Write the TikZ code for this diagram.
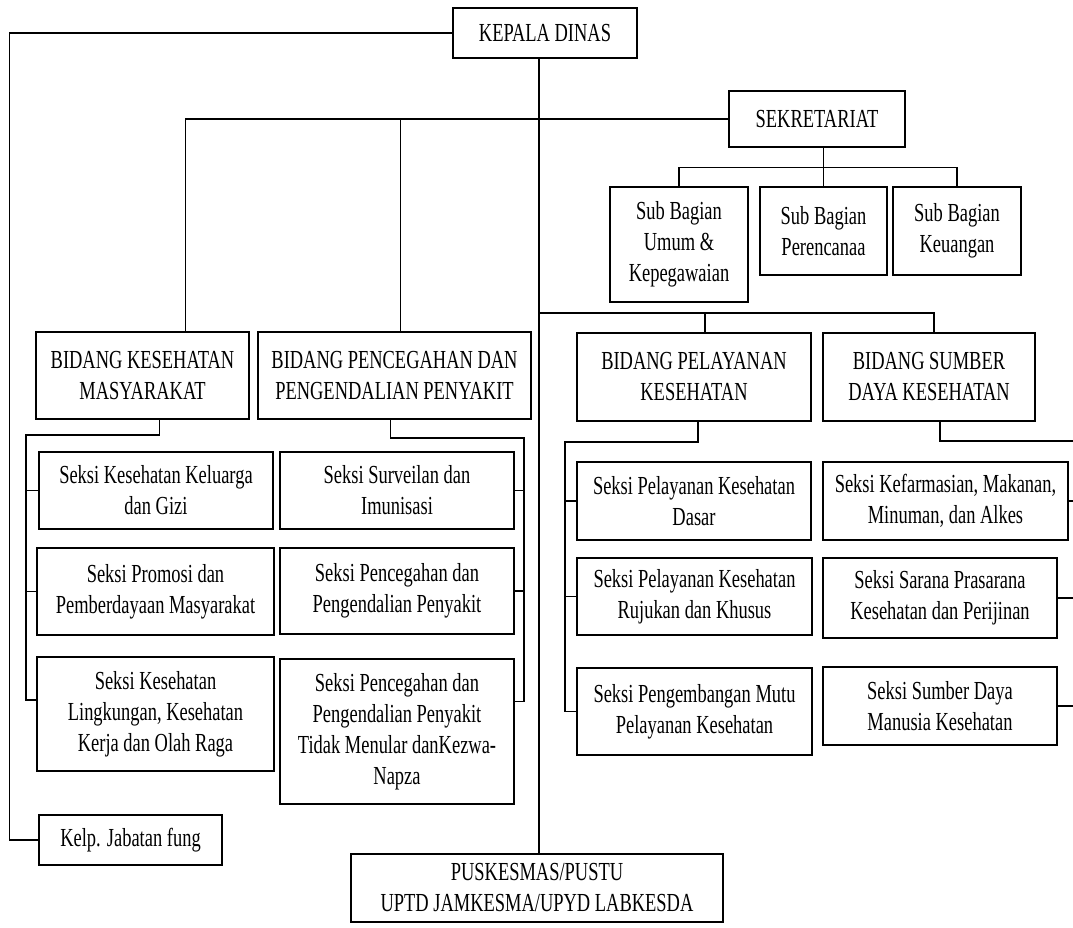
\documentclass[tikz,border=0pt]{standalone}
\usepackage{fontspec}
\setmainfont{Liberation Serif}[FakeStretch=0.71]
\tikzset{
    kotak/.style={draw, line width=2.9pt, align=center, inner sep=0pt, font=\fontsize{26}{31}\selectfont},
    garis/.style={line width=1.4pt}
}
\begin{document}
\begin{tikzpicture}[x=1pt,y=-1pt]
        \useasboundingbox (0,0) rectangle (1073,928);
        % pimpinan dan sekretariat
        \node[kotak, minimum width=184, minimum height=50] (kepala) at (545,33) {KEPALA DINAS};
        \node[kotak, minimum width=176, minimum height=56] (sekret) at (817,119) {SEKRETARIAT};
        \node[kotak, minimum width=138, minimum height=115] (sub1) at (679,244.5) {Sub Bagian\\Umum \&\\Kepegawaian};
        \node[kotak, minimum width=127, minimum height=88] (sub2) at (823.5,231) {Sub Bagian\\Perencanaa};
        \node[kotak, minimum width=128, minimum height=88] (sub3) at (957,231) {Sub Bagian\\Keuangan};
        % bidang
        \node[kotak, minimum width=213, minimum height=87] (bkm) at (142.5,375.5) {BIDANG KESEHATAN\\MASYARAKAT};
        \node[kotak, minimum width=273, minimum height=87] (bp2p) at (394.5,375.5) {BIDANG PENCEGAHAN DAN\\PENGENDALIAN PENYAKIT};
        \node[kotak, minimum width=234, minimum height=88] (bpk) at (694,377) {BIDANG PELAYANAN\\KESEHATAN};
        \node[kotak, minimum width=212, minimum height=88] (bsdk) at (929,377) {BIDANG SUMBER\\DAYA KESEHATAN};
        % seksi
        \node[kotak, minimum width=234, minimum height=77] (k1) at (156,490.5) {Seksi Kesehatan Keluarga\\dan Gizi};
        \node[kotak, minimum width=237, minimum height=87] (k2) at (155.5,591.5) {Seksi Promosi dan\\Pemberdayaan Masyarakat};
        \node[kotak, minimum width=237, minimum height=114] (k3) at (155.5,714) {Seksi Kesehatan\\Lingkungan, Kesehatan\\Kerja dan Olah Raga};
        \node[kotak, minimum width=234, minimum height=77] (p1) at (397,490.5) {Seksi Surveilan dan\\Imunisasi};
        \node[kotak, minimum width=234, minimum height=86] (p2) at (397,591) {Seksi Pencegahan dan\\Pengendalian Penyakit};
        \node[kotak, minimum width=234, minimum height=145] (p3) at (397,731.5) {Seksi Pencegahan dan\\Pengendalian Penyakit\\Tidak Menular danKezwa-\\Napza};
        \node[kotak, minimum width=234, minimum height=78] (l1) at (694,501) {Seksi Pelayanan Kesehatan\\Dasar};
        \node[kotak, minimum width=235, minimum height=77] (l2) at (694.5,596.5) {Seksi Pelayanan Kesehatan\\Rujukan dan Khusus};
        \node[kotak, minimum width=235, minimum height=87] (l3) at (694.5,711.5) {Seksi Pengembangan Mutu\\Pelayanan Kesehatan};
        \node[kotak, minimum width=245, minimum height=78] (s1) at (945.5,501) {Seksi Kefarmasian, Makanan,\\Minuman, dan Alkes};
        \node[kotak, minimum width=234, minimum height=80] (s2) at (940,598) {Seksi Sarana Prasarana\\Kesehatan dan Perijinan};
        \node[kotak, minimum width=234, minimum height=78] (s3) at (940,706) {Seksi Sumber Daya\\Manusia Kesehatan};
        % bawah
        \node[kotak, minimum width=183, minimum height=50] (jab) at (130.5,840) {Kelp. Jabatan fung};
        \node[kotak, minimum width=372, minimum height=68] (pusk) at (537,888) {PUSKESMAS/PUSTU\\UPTD JAMKESMA/UPYD LABKESDA};

        % garis komando
        \coordinate (trunk) at (539,0);
        \coordinate (cab) at (539,313);
        \draw[garis] (kepala.south -| trunk) -- (pusk.north -| trunk);
        \draw[garis] (kepala.west) -- ++(-442,0) |- (jab.west);
        \draw[garis] (sekret.west) -| ([xshift=43pt]bkm.north);
        \draw[garis] ([xshift=6pt]bp2p.north) -- ([xshift=6pt]bp2p.north |- sekret.west);
        \draw[garis] (sub2.north) -- (sub2.north |- sekret.south);
        \draw[garis] (sub1.north) -- ++(0,-18) -| (sub3.north);
        \draw[garis] (cab) -| ([xshift=5pt]bsdk.north);
        \draw[garis] ([xshift=11pt]bpk.north) -- ([xshift=11pt]bpk.north |- cab);

        % garis ke seksi
        \coordinate (kv) at (26,435);
        \coordinate (pv) at (524,438);
        \coordinate (lv) at (565,442);
        \coordinate (sv) at (1073,441);
        \draw[garis] ([xshift=17pt]bkm.south) |- (kv) -- ([yshift=14pt]k3.west -| kv) -- ([yshift=14pt]k3.west);
        \foreach \n in {k1,k2} \draw[garis] (\n.west) -- (\n.west -| kv);
        \draw[garis] ([xshift=-4pt]bp2p.south) |- (pv) -- ([yshift=30pt]p3.east -| pv) -- ([yshift=30pt]p3.east);
        \foreach \n in {p1,p2} \draw[garis] (\n.east) -- (\n.east -| pv);
        \draw[garis] ([xshift=4pt]bpk.south) |- (lv) -- (l3.west -| lv) -- (l3.west);
        \foreach \n in {l1,l2} \draw[garis] (\n.west) -- (\n.west -| lv);
        \draw[garis] ([xshift=11pt]bsdk.south) |- (sv);
        \foreach \n in {s1,s2,s3} \draw[garis] (\n.east) -- (\n.east -| sv);
\end{tikzpicture}
\end{document}
